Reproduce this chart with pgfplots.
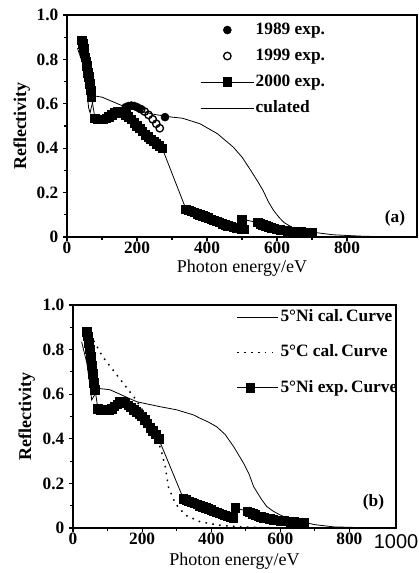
\documentclass[border=0pt]{standalone}
\usepackage{fontspec}
\setmainfont{Liberation Serif}
\newfontfamily\sansf{Liberation Sans}
\usepackage{pgfplots}
\pgfplotsset{compat=1.18}

\pgfplotsset{
  refl/.style={
    scale only axis, clip=false,
    xmin=0, ymin=0, ymax=1,
    axis line style={line width=1pt},
    tick align=outside, xtick pos=left, ytick pos=left,
    major tick length=3pt, minor tick length=2pt,
    tick style={line width=0.8pt, black},
    xtick={0,200,400,600,800}, xticklabels={0,200,400,600,800},
    ytick={0,0.2,0.4,0.6,0.8,1}, yticklabels={0,0.2,0.4,0.6,0.8,1.0},
    minor x tick num=1, minor y tick num=1,
    tick label style={font=\fontsize{13}{13}\selectfont\bfseries},
    xticklabel style={yshift=2.5pt},
    xlabel={Photon energy/eV},
    ylabel={\bfseries Reflectivity},
    label style={font=\fontsize{13.5}{14}\selectfont},
    legend style={draw=none, fill=none, inner sep=0pt,
      font=\fontsize{13}{14}\selectfont\bfseries,
      nodes={inner sep=1pt, text height=9.5pt, text depth=3pt}},
    legend cell align=left,
  },
  ln/.style={black, line width=0.6pt, no markers},
  sq/.style={black, line width=0.6pt, mark=square*, mark size=3.2pt,
    mark options={solid, fill=black}},
}

\begin{document}
\begin{tikzpicture}
\useasboundingbox (-50.25pt,-252pt) rectangle (263.25pt,177.75pt);

% ---------- panel (a)
\begin{axis}[refl,
  at={(0pt,0pt)}, anchor=south west,
  width=262.5pt, height=166.5pt,
  xmax=1000,
  xlabel style={at={(axis description cs:0.5,-0.142)}, anchor=center},
  ylabel style={at={(axis description cs:-0.129,0.5)}, anchor=center},
  legend style={at={(0.38,0.977)}, anchor=north west, row sep=5pt},
  legend image code/.code={\draw[mark repeat=2, mark phase=2]
    plot coordinates {(0pt,0pt) (20pt,0pt) (40pt,0pt)};},
]
\addplot[black, only marks, mark=*, mark size=3pt] coordinates {
  (168,0.585) (176,0.59) (184,0.592) (192,0.59) (200,0.585) (208,0.578) (280,0.54)
};
\addlegendentry{1989 exp.}
\addplot[black, only marks, mark=o, mark size=2.8pt, mark options={line width=1pt}] coordinates {
  (212,0.575) (222,0.565) (233,0.55) (245,0.53) (255,0.51) (265,0.49)
};
\addlegendentry{1999 exp.}
\addplot[sq] coordinates {
  (42,0.885) (45,0.87) (48,0.85) (50,0.83) (52,0.81) (55,0.79) (57,0.77)
  (60,0.74) (62,0.72) (65,0.69) (68,0.66) (70,0.63)
  (80,0.535) (88,0.53) (96,0.53) (104,0.53) (112,0.535) (120,0.54)
  (128,0.55) (136,0.56) (144,0.565) (152,0.565) (160,0.56) (168,0.55)
  (176,0.54) (184,0.53) (192,0.515) (200,0.50) (208,0.49) (216,0.475)
  (224,0.46) (232,0.45) (240,0.44) (248,0.43) (256,0.42) (264,0.41) (272,0.40)
  (340,0.125) (348,0.12) (356,0.115) (364,0.11) (372,0.105) (380,0.10)
  (388,0.095) (396,0.09) (404,0.085) (412,0.08) (420,0.075) (428,0.07)
  (436,0.065) (444,0.06) (452,0.055) (460,0.05) (468,0.047) (476,0.044)
  (484,0.041) (492,0.039) (500,0.037) (505,0.035) (500,0.08)
  (545,0.065) (552,0.06) (560,0.055) (568,0.05) (576,0.045) (584,0.042)
  (592,0.038) (600,0.035) (610,0.032) (620,0.03) (630,0.028) (640,0.026)
  (650,0.025) (660,0.023) (670,0.022) (680,0.021) (690,0.02) (700,0.02)
};
\addlegendentry{2000 exp.}
\addplot[ln] coordinates {
  (30,0.85) (45,0.78) (55,0.68) (62,0.58) (66,0.56) (72,0.60) (80,0.635)
  (100,0.63) (130,0.61) (160,0.59) (200,0.57) (250,0.552) (300,0.54)
  (330,0.535) (380,0.51) (430,0.465) (475,0.405) (500,0.36) (525,0.30)
  (545,0.25) (560,0.21) (575,0.16) (590,0.12) (605,0.09) (620,0.065)
  (645,0.042) (670,0.03) (710,0.02) (760,0.01) (850,0.003) (1000,0)
};
\addlegendentry{culated}
\node[font=\fontsize{13}{13}\selectfont\bfseries] at (axis cs:937,0.086) {(a)};
\end{axis}

% ---------- panel (b)
\begin{axis}[refl,
  at={(4.5pt,-218.25pt)}, anchor=south west,
  width=242.25pt, height=167.25pt,
  xmax=935,
  xlabel style={at={(axis description cs:0.5,-0.148)}, anchor=center},
  ylabel style={at={(axis description cs:-0.143,0.5)}, anchor=center},
  legend style={at={(0.505,0.99)}, anchor=north west, row sep=12pt},
  legend image code/.code={\draw[mark repeat=2, mark phase=2]
    plot coordinates {(0pt,0pt) (10pt,0pt) (31pt,0pt)};},
]
\addplot[ln] coordinates {
  (25,0.835) (40,0.74) (50,0.63) (54,0.574) (60,0.59) (73,0.626) (107,0.62)
  (150,0.59) (185,0.566) (252,0.544) (300,0.53) (349,0.507) (368,0.492)
  (392,0.475) (416,0.454) (440,0.42) (465,0.365) (494,0.29) (510,0.24)
  (523,0.185) (545,0.13) (561,0.096) (580,0.075) (600,0.058) (620,0.045)
  (640,0.035) (670,0.025) (700,0.015) (755,0.005) (850,0.001) (935,0)
};
\addlegendentry{5°Ni cal.\,Curve}
\addplot[black, no markers, line width=1.1pt, dash pattern=on 1.2pt off 4pt] coordinates {
  (60,0.84) (85,0.77) (115,0.71) (135,0.67) (155,0.63) (180,0.58)
  (205,0.52) (230,0.455) (255,0.35) (267,0.275) (276,0.185) (296,0.11)
  (325,0.058) (368,0.028) (426,0.012) (500,0.004) (600,0)
};
\addlegendentry{5°C cal.\,Curve}
\addplot[sq] coordinates {
  (40,0.88) (43,0.86) (46,0.83) (49,0.80) (52,0.77) (55,0.73) (58,0.69)
  (61,0.65) (64,0.62)
  (72,0.535) (80,0.53) (88,0.53) (96,0.53) (104,0.53) (112,0.535)
  (120,0.545) (128,0.555) (136,0.565) (144,0.565) (152,0.56) (160,0.55)
  (168,0.54) (176,0.53) (184,0.52) (192,0.51) (200,0.50) (208,0.485)
  (216,0.47) (224,0.45) (232,0.435) (240,0.42) (248,0.40)
  (320,0.13) (328,0.125) (336,0.12) (344,0.115) (352,0.11) (360,0.105)
  (368,0.10) (376,0.095) (384,0.09) (392,0.085) (400,0.08) (408,0.075)
  (416,0.07) (424,0.065) (432,0.06) (440,0.056) (448,0.052) (456,0.048)
  (464,0.045) (470,0.09) (505,0.075) (512,0.07) (520,0.064) (528,0.058)
  (536,0.053) (544,0.05) (552,0.046) (560,0.043) (570,0.04) (580,0.037)
  (590,0.035) (600,0.033) (610,0.031) (620,0.03) (630,0.028) (640,0.027)
  (650,0.026) (660,0.025) (670,0.024)
};
\addlegendentry{5°Ni exp.\,Curve}
\node[font=\fontsize{13}{13}\selectfont\bfseries] at (axis cs:870,0.117) {(b)};
\node[font=\sansf\fontsize{15}{15}\selectfont, anchor=north, yshift=-1pt] at (rel axis cs:1,0) {1000};
\end{axis}
\end{tikzpicture}
\end{document}
